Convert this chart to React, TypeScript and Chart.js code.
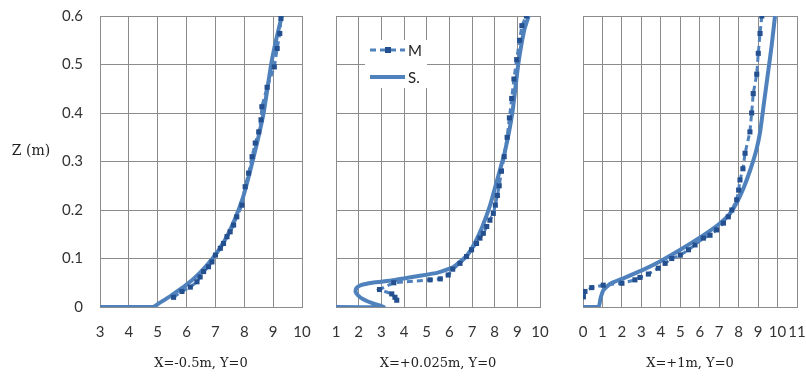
import React, { useEffect, useRef } from 'react';
import { Chart, registerables } from 'chart.js';

Chart.register(...registerables);

// ---- Data (velocity value v, height z in m) ----
// Panel 1: X=-0.5m
const m1V = [5.55, 5.84, 6.13, 6.36, 6.47, 6.59, 6.76, 6.88, 7.0, 7.17, 7.28, 7.4, 7.51, 7.63, 7.74, 7.92, 8.03, 8.15, 8.27, 8.38, 8.5, 8.58, 8.61, 8.79, 9.04, 9.14, 9.23, 9.27];
const m1Z = [0.02, 0.032, 0.041, 0.052, 0.062, 0.073, 0.083, 0.093, 0.107, 0.121, 0.131, 0.145, 0.155, 0.169, 0.186, 0.21, 0.248, 0.276, 0.31, 0.338, 0.361, 0.386, 0.413, 0.453, 0.495, 0.533, 0.564, 0.595];
const s1V = [0, 4.85, 5.0, 5.45, 6.0, 6.45, 6.9, 7.3, 7.65, 7.95, 8.2, 8.45, 8.67, 8.93, 9.1, 9.3];
const s1Z = [0, 0, 0.006, 0.023, 0.046, 0.07, 0.1, 0.135, 0.178, 0.225, 0.28, 0.34, 0.4, 0.5, 0.55, 0.6];

// Panel 2: X=+0.025m
const m2V = [3.68, 3.6, 3.46, 2.92, 3.55, 5.15, 5.6, 5.95, 6.15, 6.47, 6.76, 6.98, 7.2, 7.35, 7.5, 7.65, 7.79, 7.94, 8.03, 8.12, 8.2, 8.3, 8.42, 8.55, 8.65, 8.75, 8.85, 8.97, 9.1, 9.2, 9.4];
const m2Z = [0.014, 0.02, 0.027, 0.036, 0.05, 0.056, 0.058, 0.066, 0.078, 0.09, 0.104, 0.118, 0.131, 0.142, 0.152, 0.166, 0.179, 0.193, 0.21, 0.23, 0.25, 0.28, 0.31, 0.35, 0.39, 0.43, 0.47, 0.51, 0.55, 0.58, 0.6];
const s2V = [0, 3.1, 2.6, 2.2, 1.97, 1.86, 1.9, 2.1, 2.6, 3.5, 4.5, 5.5, 6.2, 6.75, 7.1, 7.45, 7.8, 8.1, 8.45, 8.78, 9.04, 9.3, 9.5];
const s2Z = [0, 0, 0.008, 0.016, 0.024, 0.032, 0.039, 0.045, 0.05, 0.055, 0.063, 0.071, 0.083, 0.105, 0.13, 0.165, 0.21, 0.26, 0.32, 0.4, 0.5, 0.57, 0.6];

// Panel 3: X=+1m
const m3V = [0.02, 0.1, 0.45, 1.04, 2.0, 2.67, 2.93, 3.36, 3.87, 4.22, 4.56, 5.0, 5.42, 5.76, 6.19, 6.53, 6.87, 7.22, 7.47, 7.65, 7.9, 8.0, 8.07, 8.22, 8.33, 8.58, 8.67, 8.75, 8.93, 9.01, 9.1, 9.19];
const m3Z = [0.021, 0.032, 0.04, 0.045, 0.049, 0.056, 0.061, 0.068, 0.08, 0.09, 0.1, 0.107, 0.118, 0.128, 0.142, 0.148, 0.159, 0.173, 0.186, 0.2, 0.221, 0.241, 0.262, 0.285, 0.317, 0.361, 0.4, 0.44, 0.48, 0.523, 0.564, 0.6];
const s3V = [0, 0.8, 0.9, 1.05, 1.4, 2.0, 3.0, 4.0, 5.0, 6.0, 6.9, 7.5, 7.9, 8.25, 8.6, 8.9, 9.1, 9.3, 9.5, 9.7, 9.87];
const s3Z = [0, 0, 0.018, 0.035, 0.048, 0.058, 0.075, 0.095, 0.118, 0.143, 0.168, 0.19, 0.215, 0.245, 0.283, 0.322, 0.36, 0.42, 0.48, 0.54, 0.6];

const xMins = [3, 1, 0];
const xMaxs = [10, 10, 11];
const panelTitles = ['X=-0.5m, Y=0', 'X=+0.025m, Y=0', 'X=+1m, Y=0'];
const zMin = 0;
const zMax = 0.6;
const zStep = 0.1;
const seriesNames = ['M', 'S.'];
const zLabel = 'Z (m)';

const W = 806;
const H = 378;
const areas = [
  { left: 100, right: 302 },
  { left: 336, right: 540 },
  { left: 583, right: 797 },
];
const TOP = 16;
const BOTTOM = 307;

const GRID = '#8c8c8c';
const LINE = '#4f81bd';
const MARK = '#24508f';
const TICK_FONT = { family: 'Lato', size: 15 };
const SERIF = '"DejaVu Serif", serif';

const toPts = (v: number[], z: number[]) => v.map((x, i) => ({ x, y: z[i] }));

const zLabelPlugin = {
  id: 'zLabel',
  afterDraw(chart: any) {
    const ctx = chart.ctx;
    ctx.save();
    ctx.font = `14px ${SERIF}`;
    ctx.fillStyle = '#222';
    ctx.textAlign = 'center';
    ctx.textBaseline = 'middle';
    ctx.fillText(zLabel, 31, 151);
    ctx.restore();
  },
};

const legendPlugin = {
  id: 'insideLegend',
  afterDraw(chart: any) {
    const ctx = chart.ctx;
    ctx.save();
    ctx.fillStyle = '#ffffff';
    ctx.fillRect(365, 40, 62, 48);
    ctx.strokeStyle = LINE;
    ctx.lineWidth = 3;
    ctx.setLineDash([6, 4]);
    ctx.beginPath();
    ctx.moveTo(370, 50);
    ctx.lineTo(405, 50);
    ctx.stroke();
    ctx.setLineDash([]);
    ctx.fillStyle = MARK;
    ctx.fillRect(385, 47, 6, 6);
    ctx.lineWidth = 4;
    ctx.beginPath();
    ctx.moveTo(370, 77);
    ctx.lineTo(405, 77);
    ctx.stroke();
    ctx.fillStyle = '#222';
    ctx.font = '15px Lato';
    ctx.textAlign = 'left';
    ctx.textBaseline = 'middle';
    ctx.fillText(seriesNames[0], 408, 51);
    ctx.fillText(seriesNames[1], 408, 78);
    ctx.restore();
  },
};

function buildChart(canvas: HTMLCanvasElement, idx: number, mV: number[], mZ: number[], sV: number[], sZ: number[]) {
  const a = areas[idx];
  const yW = idx === 0 ? a.left : 10;
  const plugins: any[] = [];
  if (idx === 0) plugins.push(zLabelPlugin);
  if (idx === 1) plugins.push(legendPlugin);
  return new Chart(canvas, {
    type: 'scatter',
    data: {
      datasets: [
        {
          label: seriesNames[0],
          data: toPts(mV, mZ),
          showLine: true,
          borderColor: LINE,
          borderWidth: 3,
          borderDash: [6, 4],
          pointStyle: 'rect',
          pointRadius: 3.6,
          pointBackgroundColor: MARK,
          pointBorderColor: MARK,
          pointBorderWidth: 0,
          tension: 0,
        } as any,
        {
          label: seriesNames[1],
          data: toPts(sV, sZ),
          showLine: true,
          borderColor: LINE,
          borderWidth: 4,
          pointRadius: 0,
          tension: 0.15,
        } as any,
      ],
    },
    options: {
      responsive: false,
      animation: false,
      events: [],
      layout: { padding: { left: a.left - yW, right: W - a.right, top: TOP, bottom: 0 } },
      plugins: { legend: { display: false }, tooltip: { enabled: false } },
      scales: {
        x: {
          type: 'linear',
          min: xMins[idx],
          max: xMaxs[idx],
          ticks: { stepSize: 1, padding: 16, font: TICK_FONT, color: '#333', autoSkip: false, maxRotation: 0 },
          grid: { color: GRID, drawTicks: false, lineWidth: 1 },
          border: { color: GRID },
          title: { display: true, text: panelTitles[idx], font: { family: SERIF, size: 13 }, color: '#222', padding: { top: 0, bottom: 7 } },
          afterFit: (s: any) => { s.height = H - BOTTOM; s.paddingLeft = 0; s.paddingRight = 0; },
        },
        y: {
          type: 'linear',
          min: zMin,
          max: zMax,
          ticks: { stepSize: zStep, display: idx === 0, padding: 17, font: TICK_FONT, color: '#333' },
          grid: { color: GRID, drawTicks: false, lineWidth: 1 },
          border: { color: GRID },
          afterFit: (s: any) => { s.width = yW; s.paddingTop = 0; s.paddingBottom = 0; },
        },
      },
    } as any,
    plugins,
  });
}

export default function App() {
  const r1 = useRef<HTMLCanvasElement>(null);
  const r2 = useRef<HTMLCanvasElement>(null);
  const r3 = useRef<HTMLCanvasElement>(null);
  useEffect(() => {
    const c1 = buildChart(r1.current!, 0, m1V, m1Z, s1V, s1Z);
    const c2 = buildChart(r2.current!, 1, m2V, m2Z, s2V, s2Z);
    const c3 = buildChart(r3.current!, 2, m3V, m3Z, s3V, s3Z);
    return () => { c1.destroy(); c2.destroy(); c3.destroy(); };
  }, []);
  const cs: React.CSSProperties = { position: 'absolute', left: 0, top: 0, width: W, height: H };
  return (
    <div style={{ position: 'absolute', left: 0, top: 0, width: W, height: H, background: '#fff', overflow: 'hidden' }}>
      <canvas ref={r1} width={W} height={H} style={cs} />
      <canvas ref={r2} width={W} height={H} style={cs} />
      <canvas ref={r3} width={W} height={H} style={cs} />
    </div>
  );
}
